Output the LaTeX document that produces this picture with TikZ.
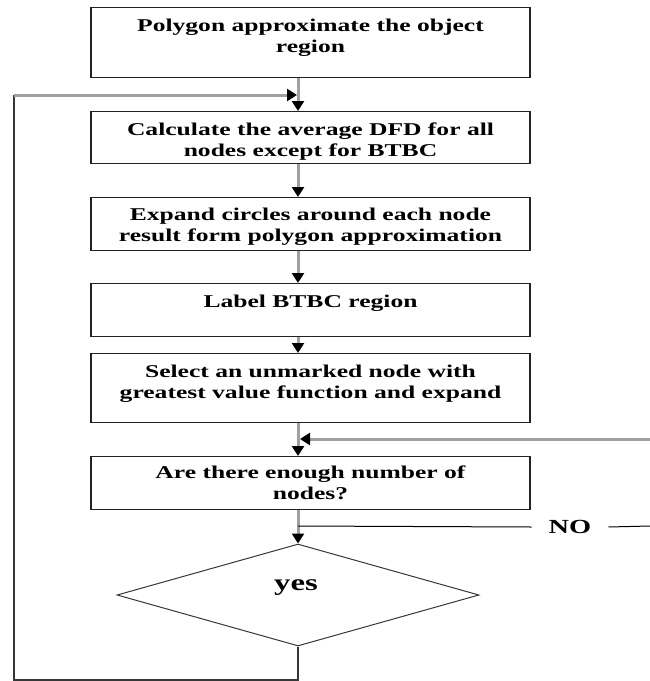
\documentclass[tikz,border=0pt]{standalone}
\usepackage{fontspec}
\newfontfamily\flowfont[FakeStretch=1.42]{Liberation Serif}
\usetikzlibrary{shapes.geometric, arrows.meta, positioning}
\definecolor{linegray}{RGB}{160,160,160}
\definecolor{loopdark}{RGB}{55,55,55}
\definecolor{boxdark}{RGB}{35,35,35}

\begin{document}
\begin{tikzpicture}[x=1pt, y=-1pt,
  stepbox/.style={draw=boxdark, line width=1.4pt, inner sep=0pt, minimum width=439pt, anchor=north},
  steptext/.style={font=\flowfont\bfseries\fontsize{18}{21}\selectfont, align=center, inner sep=0pt, anchor=base},
  flow/.style={draw=linegray, line width=3pt, -{Triangle[width=12pt,length=10pt,color=black]}},
  loopline/.style={draw=loopdark, line width=1.8pt},
  noline/.style={draw=black, line width=1pt}]
  \useasboundingbox (0,0) rectangle (650,681);

  % Steps
  \node[stepbox, minimum height=70pt] (b1) at (310.5,7) {};
  \node[stepbox, minimum height=52pt] (b2) at (310.5,111) {};
  \node[stepbox, minimum height=53pt] (b3) at (310.5,197) {};
  \node[stepbox, minimum height=53pt] (b4) at (310.5,283) {};
  \node[stepbox, minimum height=69pt] (b5) at (310.5,353) {};
  \node[stepbox, minimum height=53pt] (b6) at (310.5,456) {};

  % base = last line of each text
  \node[steptext] (t1) at (310.5,52) {Polygon approximate the object\\region};
  \node[steptext] (t2) at (310.5,156) {Calculate the average DFD for all\\nodes except for BTBC};
  \node[steptext] (t3) at (310.5,241) {Expand circles around each node\\result form polygon approximation};
  \node[steptext] (t4) at (310.5,307) {Label BTBC region};
  \node[steptext] (t5) at (310.5,398) {Select an unmarked node with\\greatest value function and expand};
  \node[steptext] (t6) at (310.5,499) {Are there enough number of\\nodes?};

  % Decision
  \node[diamond, draw=loopdark, line width=1pt, inner sep=0pt, minimum width=362pt, minimum height=102pt] (dm) at (298,595) {};
  \node[steptext, font=\flowfont\bfseries\fontsize{23}{26}\selectfont] (yes) at (296,590) {yes};

  % Main flow
  \draw[flow] (b1.south -| dm.north) -- (b2.north -| dm.north);
  \draw[flow] (b2.south -| dm.north) -- (b3.north -| dm.north);
  \draw[flow] (b3.south -| dm.north) -- (b4.north -| dm.north);
  \draw[flow] (b4.south -| dm.north) -- (b5.north -| dm.north);
  \draw[flow] (b5.south -| dm.north) -- (b6.north -| dm.north);
  \draw[flow] (b6.south -| dm.north) -- (dm.north);

  % Loop back
  \coordinate (loopbl) at (14,680);
  \coordinate (looptl) at (14,95);
  \coordinate (join1) at (297,95);
  \draw[loopline] (dm.south) |- (loopbl) -- (looptl);
  \draw[flow] (looptl) -- (join1);

  % NO branch
  \coordinate (nostart) at (298,526);
  \coordinate (noend) at (650,526);
  \node[steptext, font=\flowfont\bfseries\fontsize{20}{23}\selectfont, anchor=center, inner xsep=17pt] (no) at (570,527) {NO};
  \draw[noline] (nostart) -- (no.west);
  \draw[noline] (no.east) -- (noend);
  \coordinate (rightin) at (650,439);
  \coordinate (join2) at (300,439);
  \draw[flow] (rightin) -- (join2);
\end{tikzpicture}
\end{document}
